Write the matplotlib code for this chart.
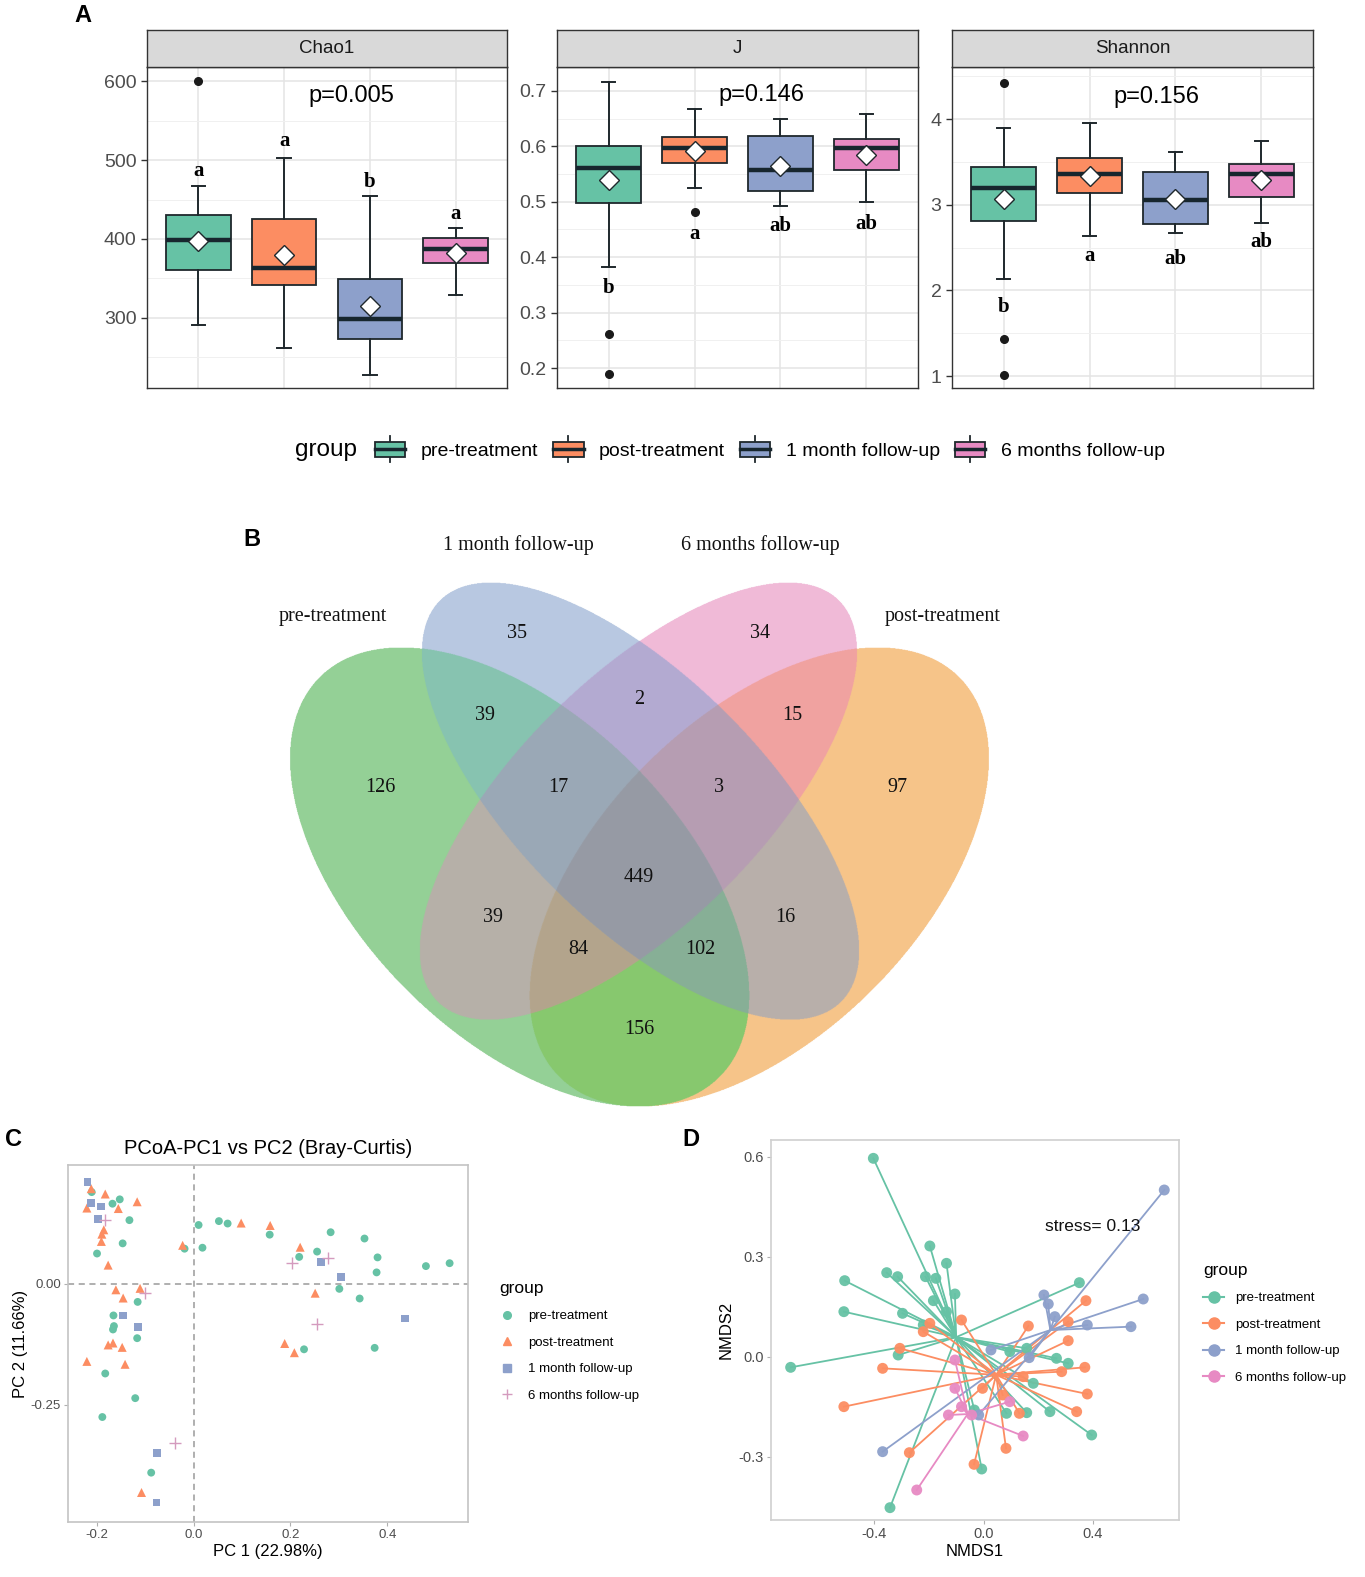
import numpy as np
import matplotlib
matplotlib.use('Agg')
import matplotlib.pyplot as plt
from matplotlib.patches import Rectangle
from matplotlib.lines import Line2D
from matplotlib.colors import to_rgba
from matplotlib.legend_handler import HandlerBase

# ---------------- data ----------------
groups = ['pre-treatment', 'post-treatment', '1 month follow-up', '6 months follow-up']
colors = ['#66C2A5', '#FC8D62', '#8DA0CB', '#E78AC3']

# Panel A: box statistics
chao1_whislo = [291, 262, 228, 329]
chao1_q1 = [361, 341, 273, 369]
chao1_med = [399, 363, 298, 387]
chao1_q3 = [430, 425, 349, 401]
chao1_whishi = [467, 503, 454, 414]
chao1_mean = [398, 379, 315, 382]
chao1_fliers = [[600], [], [], []]
chao1_letters = ['a', 'a', 'b', 'a']
chao1_letter_y = [486, 524, 472, 431]

j_whislo = [0.383, 0.525, 0.493, 0.500]
j_q1 = [0.498, 0.570, 0.519, 0.557]
j_med = [0.561, 0.597, 0.557, 0.596]
j_q3 = [0.601, 0.617, 0.619, 0.613]
j_whishi = [0.716, 0.668, 0.649, 0.658]
j_mean = [0.540, 0.591, 0.564, 0.585]
j_fliers = [[0.262, 0.190], [0.481], [], []]
j_letters = ['b', 'a', 'ab', 'ab']
j_letter_y = [0.344, 0.442, 0.457, 0.460]

sh_whislo = [2.13, 2.63, 2.67, 2.79]
sh_q1 = [2.81, 3.14, 2.77, 3.09]
sh_med = [3.19, 3.36, 3.06, 3.36]
sh_q3 = [3.44, 3.55, 3.38, 3.48]
sh_whishi = [3.90, 3.95, 3.62, 3.74]
sh_mean = [3.07, 3.34, 3.07, 3.29]
sh_fliers = [[4.42, 1.43, 1.01], [], [], []]
sh_letters = ['b', 'a', 'ab', 'ab']
sh_letter_y = [1.81, 2.40, 2.36, 2.56]

pvals = ['p=0.005', 'p=0.146', 'p=0.156']

# Panel B: Venn counts
venn_sets = ['pre-treatment', '1 month follow-up', '6 months follow-up', 'post-treatment']
venn_counts = [35, 34, 2, 39, 15, 126, 17, 3, 97, 449, 39, 16, 84, 102, 156]

# Panel C: PCoA coordinates
pc1_pre = [-0.211, -0.168, -0.153, -0.133, -0.147, -0.200, 0.010, 0.052, 0.070, 0.018, -0.019,
           0.157, 0.283, 0.353, 0.218, 0.255, 0.380, 0.378, 0.480, 0.529, 0.301, 0.343,
           -0.116, -0.166, -0.165, -0.167, -0.117, -0.183, -0.121, -0.189, 0.228, 0.374, -0.088]
pc2_pre = [0.190, 0.166, 0.175, 0.132, 0.084, 0.063, 0.122, 0.130, 0.125, 0.075, 0.073,
           0.102, 0.107, 0.094, 0.056, 0.067, 0.055, 0.024, 0.037, 0.043, -0.010, -0.030,
           -0.037, -0.065, -0.087, -0.094, -0.112, -0.185, -0.236, -0.275, -0.135, -0.132, -0.390]
pc1_post = [-0.212, -0.183, -0.221, -0.156, -0.117, -0.186, -0.190, -0.191, -0.177, 0.098, 0.158,
            -0.023, 0.220, -0.161, -0.146, -0.111, 0.251, -0.177, -0.167, -0.148, -0.221, -0.142,
            0.188, 0.208, -0.108]
pc2_post = [0.197, 0.186, 0.157, 0.156, 0.170, 0.112, 0.103, 0.088, 0.039, 0.126, 0.121,
            0.080, 0.076, -0.012, -0.029, -0.009, -0.019, -0.126, -0.122, -0.131, -0.160, -0.166,
            -0.123, -0.142, -0.431]
pc1_1m = [-0.220, -0.212, -0.192, -0.198, -0.146, -0.115, 0.263, 0.304, 0.437, -0.076, -0.077]
pc2_1m = [0.211, 0.168, 0.160, 0.134, -0.065, -0.089, 0.046, 0.015, -0.071, -0.349, -0.452]
pc1_6m = [-0.183, -0.101, 0.203, 0.278, 0.254, -0.038]
pc2_6m = [0.132, -0.019, 0.043, 0.054, -0.082, -0.328]

# Panel D: NMDS coordinates
nm1_pre = [-0.404, -0.197, -0.136, -0.355, -0.315, -0.213, -0.175, -0.509, -0.105, -0.184, -0.512,
           -0.297, 0.351, -0.221, -0.313, -0.707, 0.267, 0.310, 0.182, 0.243, 0.158, 0.084,
           -0.034, 0.396, -0.007, -0.343, 0.096, -0.136, 0.158]
nm2_pre = [0.595, 0.332, 0.280, 0.252, 0.240, 0.240, 0.235, 0.228, 0.188, 0.168, 0.135,
           0.130, 0.222, 0.095, 0.005, -0.032, -0.005, -0.020, -0.080, -0.165, -0.168, -0.170,
           -0.160, -0.235, -0.337, -0.453, 0.015, 0.135, 0.025]
nm1_post = [-0.081, -0.197, -0.221, -0.307, -0.370, -0.512, 0.164, 0.310, 0.375, 0.310, 0.371,
            0.286, 0.380, 0.341, 0.131, 0.070, -0.004, 0.145, -0.272, 0.082, -0.035]
nm2_post = [0.110, 0.100, 0.075, 0.025, -0.035, -0.150, 0.092, 0.105, 0.168, 0.048, -0.032,
            -0.045, -0.112, -0.165, -0.170, -0.115, -0.095, -0.060, -0.288, -0.275, -0.323]
nm1_1m = [0.662, 0.221, 0.237, 0.261, 0.380, 0.540, 0.585, 0.027, 0.167, -0.018, -0.370]
nm2_1m = [0.500, 0.185, 0.158, 0.120, 0.095, 0.090, 0.173, 0.020, -0.003, -0.175, -0.285]
nm1_6m = [-0.105, -0.105, -0.081, -0.129, -0.044, 0.096, 0.145, -0.245]
nm2_6m = [-0.010, -0.095, -0.150, -0.175, -0.175, -0.135, -0.238, -0.400]
stress_text = 'stress= 0.13'

# ---------------- figure ----------------
W, H = 1365, 1577
SANS = ['Liberation Sans', 'DejaVu Sans']
SERIF = ['Liberation Serif', 'DejaVu Serif']
plt.rcParams['font.family'] = SANS
fig = plt.figure(figsize=(W / 100, H / 100), dpi=100)
EDGE = '#1F282C'
MED = '#17262E'


def rect(l, t, r, b):
    return [l / W, 1 - b / H, (r - l) / W, (b - t) / H]


def box_panel(l, r, title, whislo, q1, med, q3, whishi, mean, fliers, letters, letter_y,
              pval, pval_y, ylim, yticks, yticklabels, minor):
    ax = fig.add_axes(rect(l, 67, r, 388))
    stats = [dict(whislo=whislo[i], q1=q1[i], med=med[i], q3=q3[i], whishi=whishi[i],
                  mean=mean[i], fliers=fliers[i]) for i in range(4)]
    pos = np.arange(1, 5)
    bp = ax.bxp(stats, positions=pos, widths=0.75, patch_artist=True, showmeans=True,
                capwidths=0.16,
                boxprops=dict(edgecolor=EDGE, linewidth=1.3),
                medianprops=dict(color=MED, linewidth=3.2, solid_capstyle='butt'),
                whiskerprops=dict(color=EDGE, linewidth=1.4),
                capprops=dict(color=EDGE, linewidth=1.4),
                flierprops=dict(marker='o', markerfacecolor='#1a1a1a', markeredgecolor='#1a1a1a',
                                markersize=5.5),
                meanprops=dict(marker='D', markerfacecolor='white', markeredgecolor=EDGE,
                               markersize=10, markeredgewidth=1.0, zorder=6))
    for patch, c in zip(bp['boxes'], colors):
        patch.set_facecolor(c)
    ax.set_xlim(0.4, 4.6)
    ax.set_ylim(*ylim)
    ax.set_xticks(pos)
    ax.set_xticklabels([])
    ax.tick_params(axis='x', length=0)
    ax.set_yticks(yticks)
    ax.set_yticklabels(yticklabels)
    ax.set_yticks(minor, minor=True)
    ax.tick_params(axis='y', which='minor', length=0)
    ax.tick_params(axis='y', which='major', length=4, width=1, color='#333333',
                   labelsize=14, labelcolor='#4D4D4D')
    ax.set_axisbelow(True)
    ax.grid(which='major', color='#E4E4E4', linewidth=1.1)
    ax.grid(which='minor', axis='y', color='#F0F0F0', linewidth=0.7)
    for s in ax.spines.values():
        s.set_color('#333333')
        s.set_linewidth(1.0)
    for x, lt, ly in zip(pos, letters, letter_y):
        ax.text(x, ly, lt, ha='center', va='center', fontsize=15, fontweight='bold',
                family=SERIF, color='black')
    ax.text(2.78, pval_y, pval, ha='center', va='center', fontsize=17, color='black')
    sax = fig.add_axes(rect(l, 30, r, 67))
    sax.set_facecolor('#D9D9D9')
    sax.set_xticks([])
    sax.set_yticks([])
    for s in sax.spines.values():
        s.set_color('#333333')
        s.set_linewidth(1.0)
    sax.text(0.5, 0.5, title, ha='center', va='center', fontsize=13.5, color='#1A1A1A',
             transform=sax.transAxes)
    return ax


box_panel(147, 507, 'Chao1', chao1_whislo, chao1_q1, chao1_med, chao1_q3, chao1_whishi,
          chao1_mean, chao1_fliers, chao1_letters, chao1_letter_y, pvals[0], 581,
          (211, 618), [300, 400, 500, 600], ['300', '400', '500', '600'], [250, 350, 450, 550])
box_panel(557, 918, 'J', j_whislo, j_q1, j_med, j_q3, j_whishi, j_mean, j_fliers,
          j_letters, j_letter_y, pvals[1], 0.692, (0.164, 0.743),
          [0.2, 0.3, 0.4, 0.5, 0.6, 0.7], ['0.2', '0.3', '0.4', '0.5', '0.6', '0.7'],
          [0.25, 0.35, 0.45, 0.55, 0.65])
box_panel(952, 1313, 'Shannon', sh_whislo, sh_q1, sh_med, sh_q3, sh_whishi, sh_mean,
          sh_fliers, sh_letters, sh_letter_y, pvals[2], 4.26, (0.86, 4.607),
          [1, 2, 3, 4], ['1', '2', '3', '4'], [1.5, 2.5, 3.5, 4.5])


class HandlerBoxKey(HandlerBase):
    def create_artists(self, legend, orig_handle, xdescent, ydescent, width, height,
                       fontsize, trans):
        x0, y0 = -xdescent, -ydescent
        fc = orig_handle.get_facecolor()
        whisk = Line2D([x0 + width / 2] * 2, [y0 - 0.2 * height, y0 + 1.2 * height],
                       color=EDGE, lw=1.3, transform=trans)
        box = Rectangle((x0, y0 + 0.1 * height), width, 0.8 * height, facecolor=fc,
                        edgecolor=EDGE, lw=1.3, transform=trans)
        medl = Line2D([x0, x0 + width], [y0 + height / 2] * 2, color=MED, lw=2.5,
                      transform=trans)
        return [whisk, box, medl]


box_handles = [Rectangle((0, 0), 1, 1, facecolor=c) for c in colors]
fig.legend(box_handles, groups, loc='center left', bbox_to_anchor=(375 / W, 1 - 450 / H),
           ncol=4, frameon=False, borderpad=0, borderaxespad=0, fontsize=14,
           handlelength=1.55, handleheight=1.1, handletextpad=0.78, columnspacing=0.8,
           handler_map={Rectangle: HandlerBoxKey()})
fig.text(326 / W, 1 - 450 / H, 'group', ha='center', va='center', fontsize=17.5)

# ---------------- Panel B: Venn (drawn in a pixel-like layout space) ----------------
VX0, VX1, VY0, VY1 = 250, 1030, 520, 1120
vax = fig.add_axes(rect(VX0, VY0, VX1, VY1))
vax.set_xlim(VX0, VX1)
vax.set_ylim(VY1, VY0)
vax.axis('off')
# ellipse layout: (center, angle, semi-major, semi-minor), order = venn_sets
ell_layout = [((519.5, 877), 45, 283, 160),    # pre-treatment
              ((640.5, 801), 45, 284, 123),    # 1 month follow-up
              ((638.5, 801), 135, 284, 123),   # 6 months follow-up
              ((759.5, 877), 135, 283, 160)]   # post-treatment
region_colors = {1: '#94D096', 2: '#B8C8E1', 4: '#F0BAD8', 8: '#F6C48A',
                 3: '#87C3B0', 5: '#B6B0A8', 9: '#87C86E', 6: '#B4AAD2', 10: '#B9AFAA',
                 12: '#F0A2A0', 7: '#9BA8B6', 11: '#87AF96', 13: '#B4A58C', 14: '#B69EB2',
                 15: '#969BA5'}
gx = np.linspace(VX0, VX1, 1560)
gy = np.linspace(VY0, VY1, 1200)
GX, GY = np.meshgrid(gx, gy)
code = np.zeros(GX.shape, dtype=int)
for bit, ((cx, cy), ang, a, b) in zip([1, 2, 4, 8], ell_layout):
    t = np.deg2rad(ang)
    dx, dy = GX - cx, GY - cy
    uu = dx * np.cos(t) + dy * np.sin(t)
    vv = -dx * np.sin(t) + dy * np.cos(t)
    code |= bit * (((uu / a) ** 2 + (vv / b) ** 2) <= 1)
img = np.ones(GX.shape + (4,))
img[..., 3] = 0.0
for c, col in region_colors.items():
    img[code == c] = to_rgba(col)
vax.imshow(img, extent=(VX0, VX1, VY1, VY0), origin='upper', aspect='auto',
           interpolation='antialiased')
venn_label_pos = [(517, 634), (760, 634), (639, 699), (485, 715), (792, 715), (380, 788),
                  (558, 788), (719, 788), (897, 788), (639, 877), (493, 917), (785, 917),
                  (578, 950), (700, 950), (639, 1030)]
for cnt, (px, py) in zip(venn_counts, venn_label_pos):
    vax.text(px, py, str(cnt), ha='center', va='center', fontsize=14.5,
             family=SERIF, color='#111111')
venn_name_pos = [(333, 616), (518, 545), (760, 545), (943, 616)]
for name, (px, py) in zip(venn_sets, venn_name_pos):
    vax.text(px, py, name, ha='center', va='center', fontsize=14.5,
             family=SERIF, color='#111111')

# ---------------- Panel C: PCoA ----------------
cax = fig.add_axes(rect(68, 1165, 468, 1522))
c_sets = [(pc1_pre, pc2_pre, 'o', 32), (pc1_post, pc2_post, '^', 42),
          (pc1_1m, pc2_1m, 's', 30), (pc1_6m, pc2_6m, '+', 75)]
c_handles = []
for (xs, ys, mk, sz), col, g in zip(c_sets, colors, groups):
    if mk == '+':
        cax.scatter(xs, ys, marker=mk, s=sz, color='#D49BBE', linewidths=1.0, zorder=3)
        c_handles.append(Line2D([], [], marker=mk, color='#D49BBE', ls='none', markersize=7,
                                markeredgewidth=1.0))
    else:
        cax.scatter(xs, ys, marker=mk, s=sz, color=col, edgecolors='none', zorder=3)
        c_handles.append(Line2D([], [], marker=mk, color=col, ls='none', markersize=5.5))
cax.axvline(0, color='#9A9A9A', ls=(0, (4, 3)), lw=1.1, zorder=1)
cax.axhline(0, color='#9A9A9A', ls=(0, (4, 3)), lw=1.1, zorder=1)
cax.set_xlim(-0.26, 0.567)
cax.set_ylim(-0.492, 0.246)
cax.set_xticks([-0.2, 0.0, 0.2, 0.4])
cax.set_xticklabels(['-0.2', '0.0', '0.2', '0.4'])
cax.set_yticks([-0.25, 0.0])
cax.set_yticklabels(['-0.25', '0.00'])
cax.tick_params(length=3, color='#B0B0B0', labelsize=9.5, labelcolor='#4D4D4D', pad=2)
for s in cax.spines.values():
    s.set_color('#C4C4C4')
    s.set_linewidth(1.2)
cax.set_xlabel('PC 1 (22.98%)', fontsize=12, labelpad=2)
cax.set_ylabel('PC 2 (11.66%)', fontsize=12, labelpad=2)
cax.set_title('PCoA-PC1 vs PC2 (Bray-Curtis)', fontsize=14.5, pad=8)
fig.legend(c_handles, groups, loc='upper left', bbox_to_anchor=(499 / W, 1 - 1281 / H),
           title='group', alignment='left', title_fontsize=12.5, fontsize=9.5,
           frameon=False, borderpad=0, borderaxespad=0, labelspacing=1.08,
           handlelength=1.2, handletextpad=1.0)

# ---------------- Panel D: NMDS ----------------
dax = fig.add_axes(rect(771, 1140, 1179, 1520))
d_sets = [(nm1_pre, nm2_pre), (nm1_post, nm2_post), (nm1_1m, nm2_1m), (nm1_6m, nm2_6m)]
for (xs, ys), col in zip(d_sets, colors):
    cxm, cym = np.mean(xs), np.mean(ys)
    for x, y in zip(xs, ys):
        dax.plot([cxm, x], [cym, y], color=col, lw=1.3, zorder=2)
for (xs, ys), col in zip(d_sets, colors):
    dax.scatter(xs, ys, s=62, color=col, edgecolors='none', alpha=0.95, zorder=3)
dax.text(0.40, 0.39, stress_text, ha='center', va='center', fontsize=12.5, color='#111111')
dax.set_xlim(-0.779, 0.716)
dax.set_ylim(-0.49, 0.650)
dax.set_xticks([-0.4, 0.0, 0.4])
dax.set_xticklabels(['-0.4', '0.0', '0.4'])
dax.set_yticks([-0.3, 0.0, 0.3, 0.6])
dax.set_yticklabels(['-0.3', '0.0', '0.3', '0.6'])
dax.tick_params(length=3, color='#B0B0B0', labelsize=10.5, labelcolor='#4D4D4D', pad=2)
for s in dax.spines.values():
    s.set_color('#D0D0D0')
    s.set_linewidth(1.2)
dax.set_xlabel('NMDS1', fontsize=12, labelpad=2)
dax.set_ylabel('NMDS2', fontsize=12, labelpad=4)
d_handles = [Line2D([], [], color=c, marker='o', markersize=8, lw=1.5) for c in colors]
fig.legend(d_handles, groups, loc='upper left', bbox_to_anchor=(1203 / W, 1 - 1263 / H),
           title='group', alignment='left', title_fontsize=12.5, fontsize=9.5,
           frameon=False, borderpad=0, borderaxespad=0, labelspacing=1.08,
           handlelength=1.6, handletextpad=0.8)

# ---------------- panel letters ----------------
for lab, (px, py) in zip(['A', 'B', 'C', 'D'], [(83, 15), (252, 540), (13, 1140), (691, 1140)]):
    fig.text(px / W, 1 - py / H, lab, ha='center', va='center', fontsize=17,
             fontweight='bold', color='black')

fig.savefig('out.png', dpi=100, facecolor='white')
